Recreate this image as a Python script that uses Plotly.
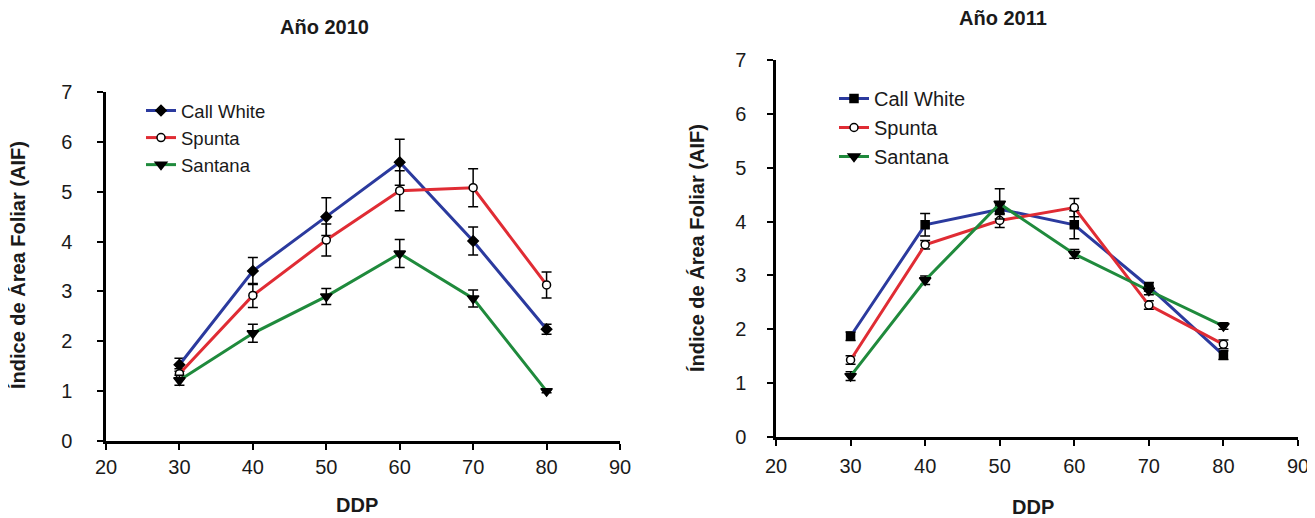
import plotly.graph_objects as go

ddp = [30, 40, 50, 60, 70, 80]

# Año 2010
cw_2010 = [1.53, 3.41, 4.50, 5.59, 4.01, 2.24]
cw_2010_err = [0.13, 0.27, 0.38, 0.46, 0.28, 0.10]
sp_2010 = [1.35, 2.92, 4.03, 5.02, 5.08, 3.13]
sp_2010_err = [0.10, 0.24, 0.32, 0.40, 0.38, 0.26]
sa_2010 = [1.22, 2.16, 2.90, 3.76, 2.86, 1.00]
sa_2010_err = [0.10, 0.18, 0.16, 0.28, 0.17, 0.03]

# Año 2011
cw_2011 = [1.87, 3.94, 4.23, 3.94, 2.79, 1.52]
cw_2011_err = [0.08, 0.21, 0.10, 0.26, 0.08, 0.08]
sp_2011 = [1.43, 3.57, 4.02, 4.26, 2.45, 1.72]
sp_2011_err = [0.08, 0.08, 0.13, 0.17, 0.08, 0.08]
sa_2011 = [1.13, 2.91, 4.33, 3.40, 2.72, 2.06]
sa_2011_err = [0.08, 0.08, 0.28, 0.08, 0.08, 0.06]

names = ["Call White", "Spunta", "Santana"]
colors = ["#2b3a9e", "#e02c34", "#1f8a3c"]
FONT = "Liberation Sans, Arial, sans-serif"

# the page body has an 8px margin: size the figure so it fits the window
OFF = 8
W, H = 1315 - OFF, 518 - OFF


def px(p):
    return (p - OFF) / W


def py(p):
    return 1 - (p - OFF) / H


fig = go.Figure()


def add(x, y, err, name, color, symbol, fill, size, xa, ya, legend):
    fig.add_trace(go.Scatter(
        x=x, y=y, name=name, mode="lines+markers",
        line=dict(color=color, width=3),
        marker=dict(symbol=symbol, size=size, color=fill,
                    line=dict(color="black", width=1.5)),
        error_y=dict(type="data", array=err, color="black", thickness=1.5, width=5),
        xaxis=xa, yaxis=ya, legend=legend,
    ))


add(ddp, cw_2010, cw_2010_err, names[0], colors[0], "diamond", "black", 8, "x", "y", "legend")
add(ddp, sp_2010, sp_2010_err, names[1], colors[1], "circle", "white", 8, "x", "y", "legend")
add(ddp, sa_2010, sa_2010_err, names[2], colors[2], "triangle-down", "black", 10, "x", "y", "legend")

add(ddp, cw_2011, cw_2011_err, names[0], colors[0], "square", "black", 8, "x2", "y2", "legend2")
add(ddp, sp_2011, sp_2011_err, names[1], colors[1], "circle", "white", 8, "x2", "y2", "legend2")
add(ddp, sa_2011, sa_2011_err, names[2], colors[2], "triangle-down", "black", 10, "x2", "y2", "legend2")

xtick = dict(range=[20, 90], tickvals=[20, 30, 40, 50, 60, 70, 80, 90],
             showline=True, linecolor="black", linewidth=2.5, ticks="outside",
             ticklen=6, tickwidth=1.5, tickcolor="black", showgrid=False,
             zeroline=False, automargin=False,
             tickfont=dict(family=FONT, size=20, color="#1a1a1a"))
ytick = dict(range=[0, 7], tickvals=[0, 1, 2, 3, 4, 5, 6, 7],
             showline=True, linecolor="black", linewidth=2.5, ticks="outside",
             ticklen=6, tickwidth=1.5, tickcolor="black", showgrid=False,
             zeroline=False, automargin=False,
             tickfont=dict(family=FONT, size=20, color="#1a1a1a"))

fig.update_layout(
    width=W, height=H,
    margin=dict(l=0, r=0, t=0, b=0, autoexpand=False),
    paper_bgcolor="white", plot_bgcolor="white",
    showlegend=True,
    xaxis=dict(domain=[px(106), px(620)], anchor="y", ticklabelstandoff=0, **xtick),
    yaxis=dict(domain=[py(441), py(92)], anchor="x", ticklabelstandoff=21, **ytick),
    xaxis2=dict(domain=[px(776), px(1298)], anchor="y2", ticklabelstandoff=3, **xtick),
    yaxis2=dict(domain=[py(437), py(60)], anchor="x2", ticklabelstandoff=17, **ytick),
    legend=dict(x=px(141), y=py(92), xanchor="left", yanchor="top",
                bgcolor="rgba(0,0,0,0)", font=dict(family=FONT, size=18.5, color="#1a1a1a"),
                tracegroupgap=0),
    legend2=dict(x=px(834), y=py(79), xanchor="left", yanchor="top",
                 bgcolor="rgba(0,0,0,0)", font=dict(family=FONT, size=20, color="#1a1a1a"),
                 tracegroupgap=0),
)

bold = dict(family=FONT, size=20, color="#1a1a1a")
ann = [
    dict(text="<b>Año 2010</b>", x=324, y=27),
    dict(text="<b>Año 2011</b>", x=1003, y=18),
    dict(text="<b>DDP</b>", x=357, y=505),
    dict(text="<b>DDP</b>", x=1033, y=507),
]
for a in ann:
    fig.add_annotation(text=a["text"], x=px(a["x"]), y=py(a["y"]),
                       xref="paper", yref="paper", showarrow=False,
                       xanchor="center", yanchor="middle", font=bold)
fig.add_annotation(text="<b>Índice de Área Foliar (AIF)</b>", x=px(18), y=py(265),
                   xref="paper", yref="paper", showarrow=False, textangle=-90,
                   xanchor="center", yanchor="middle", font=bold)
fig.add_annotation(text="<b>Índice de Área Foliar (AIF)</b>", x=px(697), y=py(248),
                   xref="paper", yref="paper", showarrow=False, textangle=-90,
                   xanchor="center", yanchor="middle", font=bold)

fig.write_html("out.html")
